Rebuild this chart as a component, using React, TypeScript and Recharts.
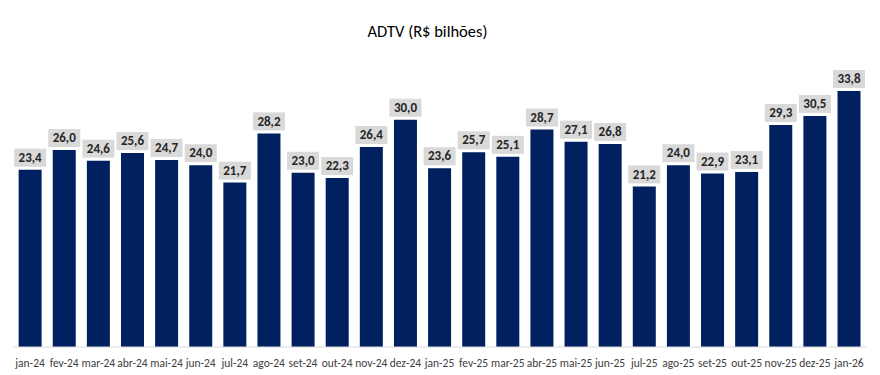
import React from "react";
import { Bar, BarChart, LabelList, XAxis, YAxis } from "recharts";

const months = [
  "jan-24", "fev-24", "mar-24", "abr-24", "mai-24", "jun-24", "jul-24", "ago-24", "set-24", "out-24", "nov-24", "dez-24",
  "jan-25", "fev-25", "mar-25", "abr-25", "mai-25", "jun-25", "jul-25", "ago-25", "set-25", "out-25", "nov-25", "dez-25",
  "jan-26",
];

const adtv = [
  23.4, 26.0, 24.6, 25.6, 24.7, 24.0, 21.7, 28.2, 23.0, 22.3, 26.4, 30.0,
  23.6, 25.7, 25.1, 28.7, 27.1, 26.8, 21.2, 24.0, 22.9, 23.1, 29.3, 30.5,
  33.8,
];

const FONT = "Carlito, Lato, 'Open Sans', sans-serif";

const chartData = months.map((m, i) => ({ month: m, value: adtv[i] }));

// grey box label above each bar, pt-BR decimal comma
const renderLabel = (props: any) => {
  const { x, y, width, value } = props;
  const cx = x + width / 2;
  const boxW = 32;
  const boxH = 18;
  const top = y - 3 - boxH;
  return (
    <g>
      <rect x={cx - boxW / 2} y={top} width={boxW} height={boxH} fill="#d9d9d9" />
      <text
        x={cx}
        y={top + boxH / 2 + 1}
        textAnchor="middle"
        dominantBaseline="middle"
        fontFamily={FONT}
        fontSize={13}
        fontWeight="bold"
        fill="#262626"
      >
        {Number(value).toFixed(1).replace(".", ",")}
      </text>
    </g>
  );
};

export default function App() {
  return (
    <div style={{ position: "absolute", left: 0, top: 0, width: 880, height: 375, background: "#fff" }}>
      <div
        style={{
          position: "absolute",
          left: 0,
          top: 21,
          width: 855,
          textAlign: "center",
          fontFamily: FONT,
          fontSize: 16.5,
          color: "#000",
        }}
      >
        ADTV (R$ bilhões)
      </div>
      <BarChart
        width={880}
        height={375}
        data={chartData}
        margin={{ top: 44, right: 14, left: 13, bottom: 0 }}
        barCategoryGap="16.5%"
      >
        <XAxis
          dataKey="month"
          height={28}
          tickLine={false}
          axisLine={{ stroke: "#d9d9d9" }}
          interval={0}
          tick={{ fontFamily: FONT, fontSize: 11.5, fill: "#404040" }}
          tickMargin={6}
        />
        <YAxis hide domain={[0, 40]} />
        <Bar dataKey="value" fill="#002060" isAnimationActive={false}>
          <LabelList dataKey="value" content={renderLabel} />
        </Bar>
      </BarChart>
    </div>
  );
}
